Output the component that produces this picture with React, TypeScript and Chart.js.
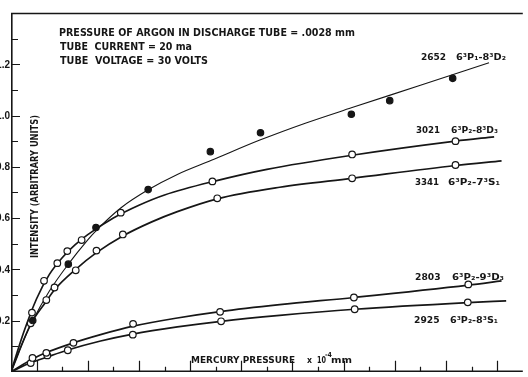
import React, { useEffect, useRef } from "react";
import { Chart, registerables } from "chart.js";

Chart.register(...registerables);

// ---------- data (x in units of 10^-4 mm, y in arbitrary intensity units) ----------
const xTicks = [1, 2, 3, 4, 5, 6, 7, 8, 9, 10, 11, 12, 13, 14, 15, 16, 17, 18, 19];
const xMajorTicks = [1, 3, 5, 7, 9, 11, 13, 15, 17, 19];
const yTicks = [0.1, 0.2, 0.3, 0.4, 0.5, 0.6, 0.7, 0.8, 0.9, 1.0, 1.1, 1.2, 1.3];
const yTickLabelValues = [0.2, 0.4, 0.6, 0.8, 1.0, 1.2];
const yTickLabels = ["0.2", "0.4", "0.6", "0.8", "1.0", "1.2"];

// 2652  6³P₁–8³D₂ (filled dots)
const pts2652X = [0.85, 2.24, 3.32, 5.36, 7.79, 9.75, 13.3, 14.8, 17.26];
const pts2652Y = [0.2, 0.42, 0.563, 0.711, 0.859, 0.933, 1.005, 1.058, 1.145];
const fit2652X = [0, 0.5, 0.85, 1.5, 2.24, 3.0, 3.32, 4.3, 5.36, 6.5, 7.83, 9.75, 11.5, 13.3, 16, 18.68];
const fit2652Y = [0, 0.125, 0.2, 0.315, 0.42, 0.515, 0.55, 0.64, 0.71, 0.77, 0.825, 0.905, 0.97, 1.03, 1.118, 1.206];

// 3021  6³P₂–8³D₃ (open circles)
const pts3021X = [0.82, 1.29, 1.81, 2.2, 2.76, 4.29, 7.87, 13.33, 17.37];
const pts3021Y = [0.231, 0.355, 0.424, 0.471, 0.514, 0.621, 0.743, 0.848, 0.9];
const fit3021X = [0, 0.5, 1.0, 1.5, 2.0, 2.5, 3.0, 4.0, 5.0, 6.0, 8.0, 10, 13.33, 17.37, 18.88];
const fit3021Y = [0, 0.155, 0.285, 0.38, 0.445, 0.495, 0.535, 0.6, 0.65, 0.69, 0.745, 0.79, 0.845, 0.9, 0.917];

// 3341  6³P₂–7³S₁ (open circles)
const pts3341X = [0.77, 1.38, 1.7, 2.53, 3.34, 4.37, 8.06, 13.33, 17.37];
const pts3341Y = [0.189, 0.28, 0.329, 0.396, 0.473, 0.536, 0.677, 0.755, 0.807];
const fit3341X = [0, 0.77, 1.38, 1.7, 2.53, 3.34, 4.37, 5.5, 6.5, 8.06, 10.5, 13.33, 17.37, 19.17];
const fit3341Y = [0, 0.185, 0.275, 0.32, 0.4, 0.465, 0.53, 0.585, 0.625, 0.675, 0.72, 0.755, 0.805, 0.823];

// 2803  6³P₂–9³D₃ (open circles)
const pts2803X = [0.84, 1.38, 2.44, 4.77, 8.17, 13.4, 17.87];
const pts2803Y = [0.054, 0.074, 0.113, 0.187, 0.234, 0.29, 0.341];
const fit2803X = [0, 0.84, 1.38, 2.44, 3.5, 4.77, 6.5, 8.17, 10.5, 13.4, 17.87, 19.17];
const fit2803Y = [0, 0.05, 0.075, 0.113, 0.145, 0.178, 0.21, 0.235, 0.262, 0.29, 0.338, 0.355];

// 2925  6³P₂–8³S₁ (open circles)
const pts2925X = [0.77, 1.42, 2.22, 4.76, 8.21, 13.43, 17.85];
const pts2925Y = [0.034, 0.064, 0.084, 0.145, 0.197, 0.244, 0.271];
const fit2925X = [0, 0.77, 1.42, 2.22, 3.5, 4.76, 6.5, 8.21, 10.5, 13.43, 17.85, 19.35];
const fit2925Y = [0, 0.035, 0.058, 0.085, 0.12, 0.147, 0.175, 0.197, 0.22, 0.244, 0.27, 0.277];

const X_MIN = 0;
const X_MAX = 20;
const Y_MIN = 0;
const Y_MAX = 1.4;

// ---------- helpers ----------
const INK = "#161616";

function toXY(xs: number[], ys: number[]) {
  return xs.map((x, i) => ({ x, y: ys[i] }));
}

function fitText(ctx: CanvasRenderingContext2D, text: string, x: number, y: number, w: number, font: string) {
  ctx.font = font;
  const m = ctx.measureText(text).width || 1;
  ctx.save();
  ctx.translate(x, y);
  ctx.scale(w / m, 1);
  ctx.textAlign = "left";
  ctx.textBaseline = "alphabetic";
  ctx.fillText(text, 0, 0);
  ctx.restore();
}

const decorPlugin = {
  id: "decor",
  beforeDraw(chart: any) {
    const ctx = chart.ctx as CanvasRenderingContext2D;
    ctx.save();
    ctx.fillStyle = "#ffffff";
    ctx.fillRect(0, 0, chart.width, chart.height);
    ctx.restore();
  },
  afterDraw(chart: any) {
    const ctx = chart.ctx as CanvasRenderingContext2D;
    const xs = chart.scales.x;
    const ys = chart.scales.y;
    const x0 = xs.getPixelForValue(X_MIN);
    const x1 = xs.getPixelForValue(X_MAX);
    const y0 = ys.getPixelForValue(Y_MIN);
    const yTop = ys.getPixelForValue(Y_MAX);

    ctx.save();
    ctx.strokeStyle = INK;
    ctx.fillStyle = INK;
    ctx.lineCap = "butt";

    // frame
    ctx.lineWidth = 1.6;
    ctx.beginPath();
    ctx.moveTo(x0 + 0.8, yTop);
    ctx.lineTo(x0 + 0.8, y0);
    ctx.moveTo(x0, y0 - 0.5);
    ctx.lineTo(x1, y0 - 0.5);
    ctx.stroke();
    ctx.lineWidth = 1.3;
    ctx.beginPath();
    ctx.moveTo(x0, yTop + 0.5);
    ctx.lineTo(x1, yTop + 0.5);
    ctx.stroke();

    // y ticks (inside)
    ctx.lineWidth = 1.2;
    ctx.beginPath();
    yTicks.forEach((v) => {
      const py = Math.round(ys.getPixelForValue(v)) + 0.5;
      const major = yTickLabelValues.some((t) => Math.abs(t - v) < 1e-6);
      ctx.moveTo(x0, py);
      ctx.lineTo(x0 + (major ? 9 : 7), py);
    });
    ctx.stroke();

    // x ticks (inside)
    ctx.beginPath();
    xTicks.forEach((v) => {
      const px = Math.round(xs.getPixelForValue(v)) + 0.5;
      const major = xMajorTicks.includes(v);
      ctx.moveTo(px, y0);
      ctx.lineTo(px, y0 - (major ? 11 : 5));
    });
    ctx.stroke();

    // y tick labels (clipped at the page edge like the scan)
    ctx.font = 'bold 10px "Liberation Sans"';
    ctx.textAlign = "right";
    ctx.textBaseline = "middle";
    yTickLabelValues.forEach((v, i) => {
      ctx.fillText(yTickLabels[i], x0 - 1, ys.getPixelForValue(v) + 0.5);
    });

    // header annotation
    const hf = 'bold 10px "DejaVu Sans"';
    fitText(ctx, "PRESSURE OF ARGON IN DISCHARGE TUBE = .0028 mm", 59, 36, 296, hf);
    fitText(ctx, "TUBE  CURRENT = 20 ma", 60, 49.5, 132, hf);
    fitText(ctx, "TUBE  VOLTAGE = 30 VOLTS", 60, 63.5, 148, hf);

    // series labels
    const nf = 'bold 9px "DejaVu Sans"';
    const ef = 'bold 9px "DejaVu Sans"';
    fitText(ctx, "2652", 421, 59.5, 25, nf);
    fitText(ctx, "6³P₁-8³D₂", 456, 59.5, 50, ef);
    fitText(ctx, "3021", 416, 133, 24, nf);
    fitText(ctx, "6³P₂-8³D₃", 451, 133, 47, ef);
    fitText(ctx, "3341", 415, 184.5, 24, nf);
    fitText(ctx, "6³P₂-7³S₁", 448, 184.5, 52, ef);
    fitText(ctx, "2803", 415, 280, 25.5, nf);
    fitText(ctx, "6³P₂-9³D₃", 452, 280, 52, ef);
    fitText(ctx, "2925", 414, 322.5, 25.5, nf);
    fitText(ctx, "6³P₂-8³S₁", 450, 322.5, 48, ef);

    // x axis title
    const xf = 'bold 9.5px "DejaVu Sans"';
    fitText(ctx, "MERCURY PRESSURE", 191, 362.5, 104, xf);
    fitText(ctx, "x", 307, 362.5, 5, xf);
    fitText(ctx, "10", 317, 362.5, 9, xf);
    fitText(ctx, "-4", 325, 357, 7, 'bold 7px "DejaVu Sans"');
    fitText(ctx, "mm", 331, 362.5, 21, xf);

    // y axis title
    ctx.save();
    ctx.translate(37.5, 258);
    ctx.rotate(-Math.PI / 2);
    fitText(ctx, "INTENSITY (ARBITRARY UNITS)", 0, 0, 143, 'bold 10px "DejaVu Sans"');
    ctx.restore();

    ctx.restore();
  },
};

function curve(xs: number[], ys: number[], width: number) {
  return {
    type: "line" as const,
    data: toXY(xs, ys),
    showLine: true,
    borderColor: INK,
    borderWidth: width,
    pointRadius: 0,
    pointHoverRadius: 0,
    fill: false,
    cubicInterpolationMode: "monotone" as const,
    order: 2,
  };
}

function marks(xs: number[], ys: number[], filled: boolean) {
  return {
    type: "scatter" as const,
    data: toXY(xs, ys),
    showLine: false,
    pointStyle: "circle" as const,
    pointRadius: filled ? 3.2 : 3.3,
    pointBorderWidth: 1.2,
    pointBackgroundColor: filled ? INK : "#ffffff",
    pointBorderColor: INK,
    order: 1,
  };
}

export default function App() {
  const canvasRef = useRef<HTMLCanvasElement | null>(null);

  useEffect(() => {
    const canvas = canvasRef.current;
    if (!canvas) return;
    const chart = new Chart(canvas, {
      type: "scatter",
      data: {
        datasets: [
          curve(fit2652X, fit2652Y, 1.1),
          curve(fit3021X, fit3021Y, 1.7),
          curve(fit3341X, fit3341Y, 1.7),
          curve(fit2803X, fit2803Y, 1.7),
          curve(fit2925X, fit2925Y, 1.7),
          marks(pts2652X, pts2652Y, true),
          marks(pts3021X, pts3021Y, false),
          marks(pts3341X, pts3341Y, false),
          marks(pts2803X, pts2803Y, false),
          marks(pts2925X, pts2925Y, false),
        ] as any,
      },
      options: {
        animation: false,
        responsive: false,
        maintainAspectRatio: false,
        devicePixelRatio: 1,
        layout: { padding: { left: 11, top: 13, right: 0, bottom: 1 } },
        plugins: {
          legend: { display: false },
          tooltip: { enabled: false },
          title: { display: false },
        },
        events: [],
        scales: {
          x: { type: "linear", min: X_MIN, max: X_MAX, display: false },
          y: { type: "linear", min: Y_MIN, max: Y_MAX, display: false },
        },
      },
      plugins: [decorPlugin],
    });
    return () => chart.destroy();
  }, []);

  return (
    <div
      style={{
        position: "fixed",
        left: 0,
        top: 0,
        width: 528,
        height: 377,
        overflow: "hidden",
        background: "#ffffff",
      }}
    >
      <canvas ref={canvasRef} width={528} height={377} style={{ display: "block", width: 528, height: 377 }} />
    </div>
  );
}
